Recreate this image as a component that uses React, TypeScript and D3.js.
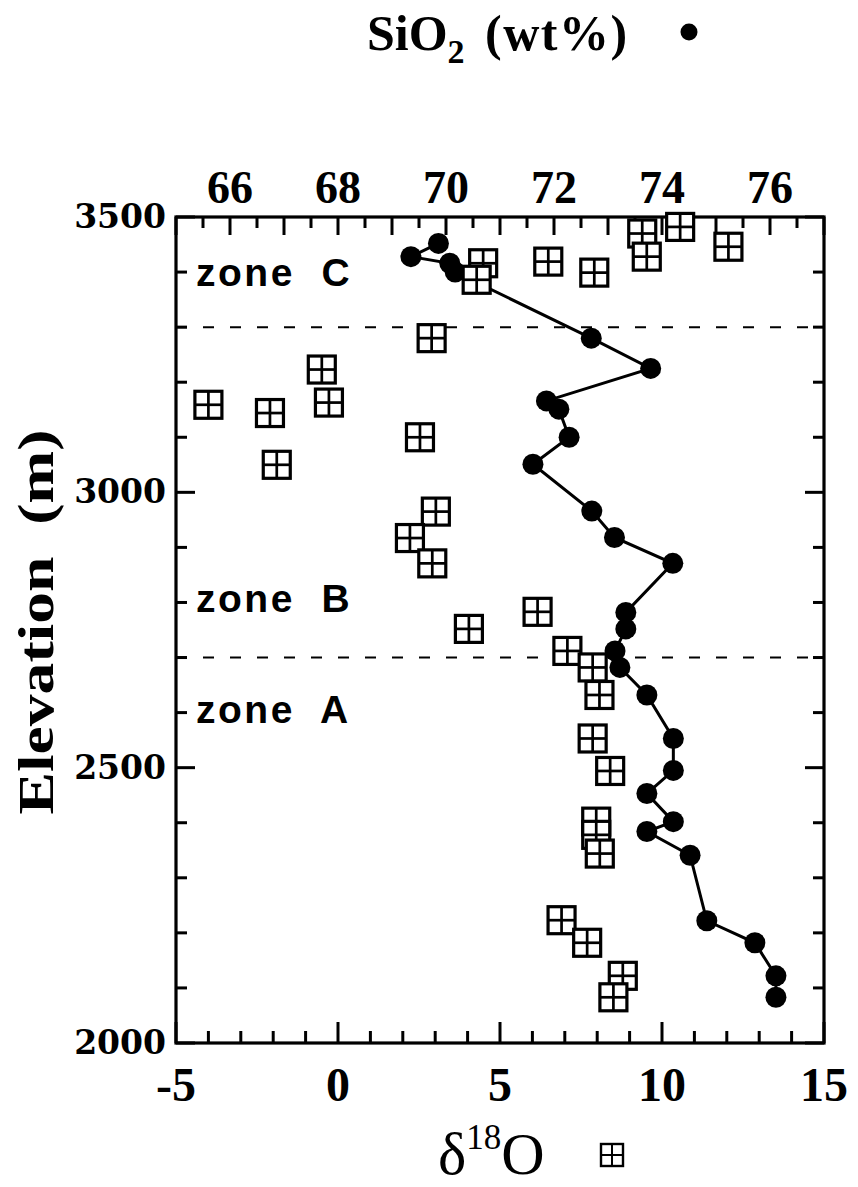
import * as d3 from "d3";
import * as React from "react";

// SiO2 (wt%) vs elevation (m), filled circles joined by a line
const sio2Elev = [3452, 3428, 3416, 3400, 3280, 3225, 3166, 3151, 3100, 3051, 2966, 2918, 2871, 2782, 2752, 2712, 2682, 2632, 2553, 2495, 2453, 2402, 2384, 2341, 2222, 2182, 2122, 2083];
const sio2Val = [69.86, 69.35, 70.07, 70.17, 72.69, 73.79, 71.86, 72.09, 72.28, 71.61, 72.70, 73.12, 74.20, 73.33, 73.33, 73.13, 73.22, 73.72, 74.21, 74.21, 73.72, 74.21, 73.72, 74.52, 74.83, 75.72, 76.11, 76.11];

// delta 18O vs elevation (m), boxed-cross squares
const d18oElev = [3482, 3470, 3446, 3428, 3419, 3399, 3416, 3386, 3280, 3223, 3159, 3144, 3163, 3100, 3050, 2965, 2917, 2871, 2752, 2783, 2712, 2682, 2632, 2553, 2494, 2402, 2378, 2344, 2223, 2182, 2122, 2083];
const d18oVal = [10.56, 9.39, 12.05, 9.53, 6.49, 7.91, 4.48, 4.28, 2.89, -0.50, -4.00, -2.10, -0.28, 2.53, -1.89, 3.02, 2.22, 2.91, 4.04, 6.16, 7.08, 7.86, 8.07, 7.86, 8.40, 7.97, 7.97, 8.08, 6.90, 7.69, 8.79, 8.50];

const bottomTicks = [-5, 0, 5, 10, 15];
const topTicks = [66, 68, 70, 72, 74, 76];
const elevTicks = [2000, 2500, 3000, 3500];
const zoneBounds = [3300, 2700];
const zoneNames = ["zone  C", "zone  B", "zone  A"];
const zoneElev = [3375, 2782, 2582];

const L = 176, R = 824, T = 217, B = 1043;

function Square({ cx, cy, s, sw }: { cx: number; cy: number; s: number; sw: number }) {
    const h = s / 2;
    return (
        <g>
            <rect x={cx - h} y={cy - h} width={s} height={s} fill="white" stroke="black" strokeWidth={sw} />
            <line x1={cx} x2={cx} y1={cy - h} y2={cy + h} stroke="black" strokeWidth={sw * 0.85} />
            <line x1={cx - h} x2={cx + h} y1={cy} y2={cy} stroke="black" strokeWidth={sw * 0.85} />
        </g>
    );
}

export default function App() {
    const x = d3.scaleLinear().domain([-5, 15]).range([L, R]);
    const xTop = d3.scaleLinear().domain([65, 77]).range([L, R]);
    const y = d3.scaleLinear().domain([2000, 3500]).range([B, T]);

    const sio2 = sio2Val.map((v, i) => ({ v, e: sio2Elev[i] }));
    const d18o = d18oVal.map((v, i) => ({ v, e: d18oElev[i] }));

    const lineGen = d3.line<{ v: number; e: number }>()
        .x(d => xTop(d.v))
        .y(d => y(d.e));

    const bottomMinor = d3.range(-5, 15.01, 1);
    const topMinor = d3.range(65, 77.01, 0.5);
    const elevMinor = d3.range(2000, 3500.01, 100);

    const tickStroke = { stroke: "black", strokeWidth: 3 };
    const serif = "'Liberation Serif', 'Times New Roman', serif";

    return (
        <svg width={858} height={1187} style={{ position: "absolute", left: 0, top: 0, background: "white" }}>
            {/* title */}
            <text x={367} y={50} fontFamily={serif} fontWeight="bold" fontSize={50}>
                SiO<tspan dy={13} fontSize={34}>2</tspan>
            </text>
            <text x={485} y={50} fontFamily={serif} fontWeight="bold" fontSize={50} letterSpacing={1.5}>(wt%)</text>
            <circle cx={689} cy={32} r={8.5} fill="black" />

            {/* zone boundaries */}
            {zoneBounds.map(e => (
                <line key={e} x1={L} x2={R} y1={y(e)} y2={y(e)} stroke="black" strokeWidth={2} strokeDasharray="11,16" />
            ))}
            {zoneNames.map((n, i) => (
                <text key={n} x={196} y={y(zoneElev[i])} fontFamily="'Liberation Sans', Arial, sans-serif"
                    fontWeight="bold" fontSize={39} letterSpacing={2.5} style={{ whiteSpace: "pre" }}>{n}</text>
            ))}

            {/* ticks */}
            {bottomMinor.map(v => {
                const len = v % 5 === 0 ? 21 : 12;
                return <line key={"b" + v} x1={x(v)} x2={x(v)} y1={B} y2={B - len} {...tickStroke} />;
            })}
            {topMinor.map(v => {
                const len = Number.isInteger(v) ? 18 : 11;
                return <line key={"t" + v} x1={xTop(v)} x2={xTop(v)} y1={T} y2={T + len} {...tickStroke} />;
            })}
            {elevMinor.map(v => {
                const len = v % 500 === 0 ? 19 : 11;
                return (
                    <g key={"e" + v}>
                        <line x1={L} x2={L + len} y1={y(v)} y2={y(v)} {...tickStroke} />
                        <line x1={R} x2={R - len} y1={y(v)} y2={y(v)} {...tickStroke} />
                    </g>
                );
            })}

            {/* frame */}
            <rect x={L} y={T} width={R - L} height={B - T} fill="none" stroke="black" strokeWidth={3.2} />

            {/* SiO2 series */}
            <path d={lineGen(sio2) || ""} fill="none" stroke="black" strokeWidth={3} />
            {sio2.map((d, i) => (
                <circle key={"c" + i} cx={xTop(d.v)} cy={y(d.e)} r={10.5} fill="black" />
            ))}

            {/* d18O series */}
            {d18o.map((d, i) => (
                <Square key={"s" + i} cx={x(d.v)} cy={y(d.e)} s={27} sw={3.2} />
            ))}

            {/* tick labels */}
            {bottomTicks.map(v => (
                <text key={"bl" + v} x={x(v)} y={1101} textAnchor="middle" fontFamily={serif} fontWeight="bold" fontSize={48}>{v}</text>
            ))}
            {topTicks.map(v => (
                <text key={"tl" + v} x={xTop(v)} y={203} textAnchor="middle" fontFamily={serif} fontWeight="bold" fontSize={46}>{v}</text>
            ))}
            {elevTicks.map(v => (
                <text key={"el" + v} x={166} y={y(v) + 11} textAnchor="end" fontFamily="'DejaVu Serif', serif" fontWeight="bold" fontSize={33}>{v}</text>
            ))}

            {/* axis titles */}
            <text transform="translate(53,622) rotate(-90)" textAnchor="middle" fontFamily={serif} fontWeight="bold"
                fontSize={50} textLength={385} lengthAdjust="spacingAndGlyphs" style={{ whiteSpace: "pre" }}>Elevation  (m)</text>

            <text x={438} y={1174} fontFamily={serif} fontSize={60}>
                δ<tspan dy={-25} fontSize={35}>18</tspan><tspan dy={25}>O</tspan>
            </text>
            <Square cx={612} cy={1155} s={22} sw={2.4} />
        </svg>
    );
}
